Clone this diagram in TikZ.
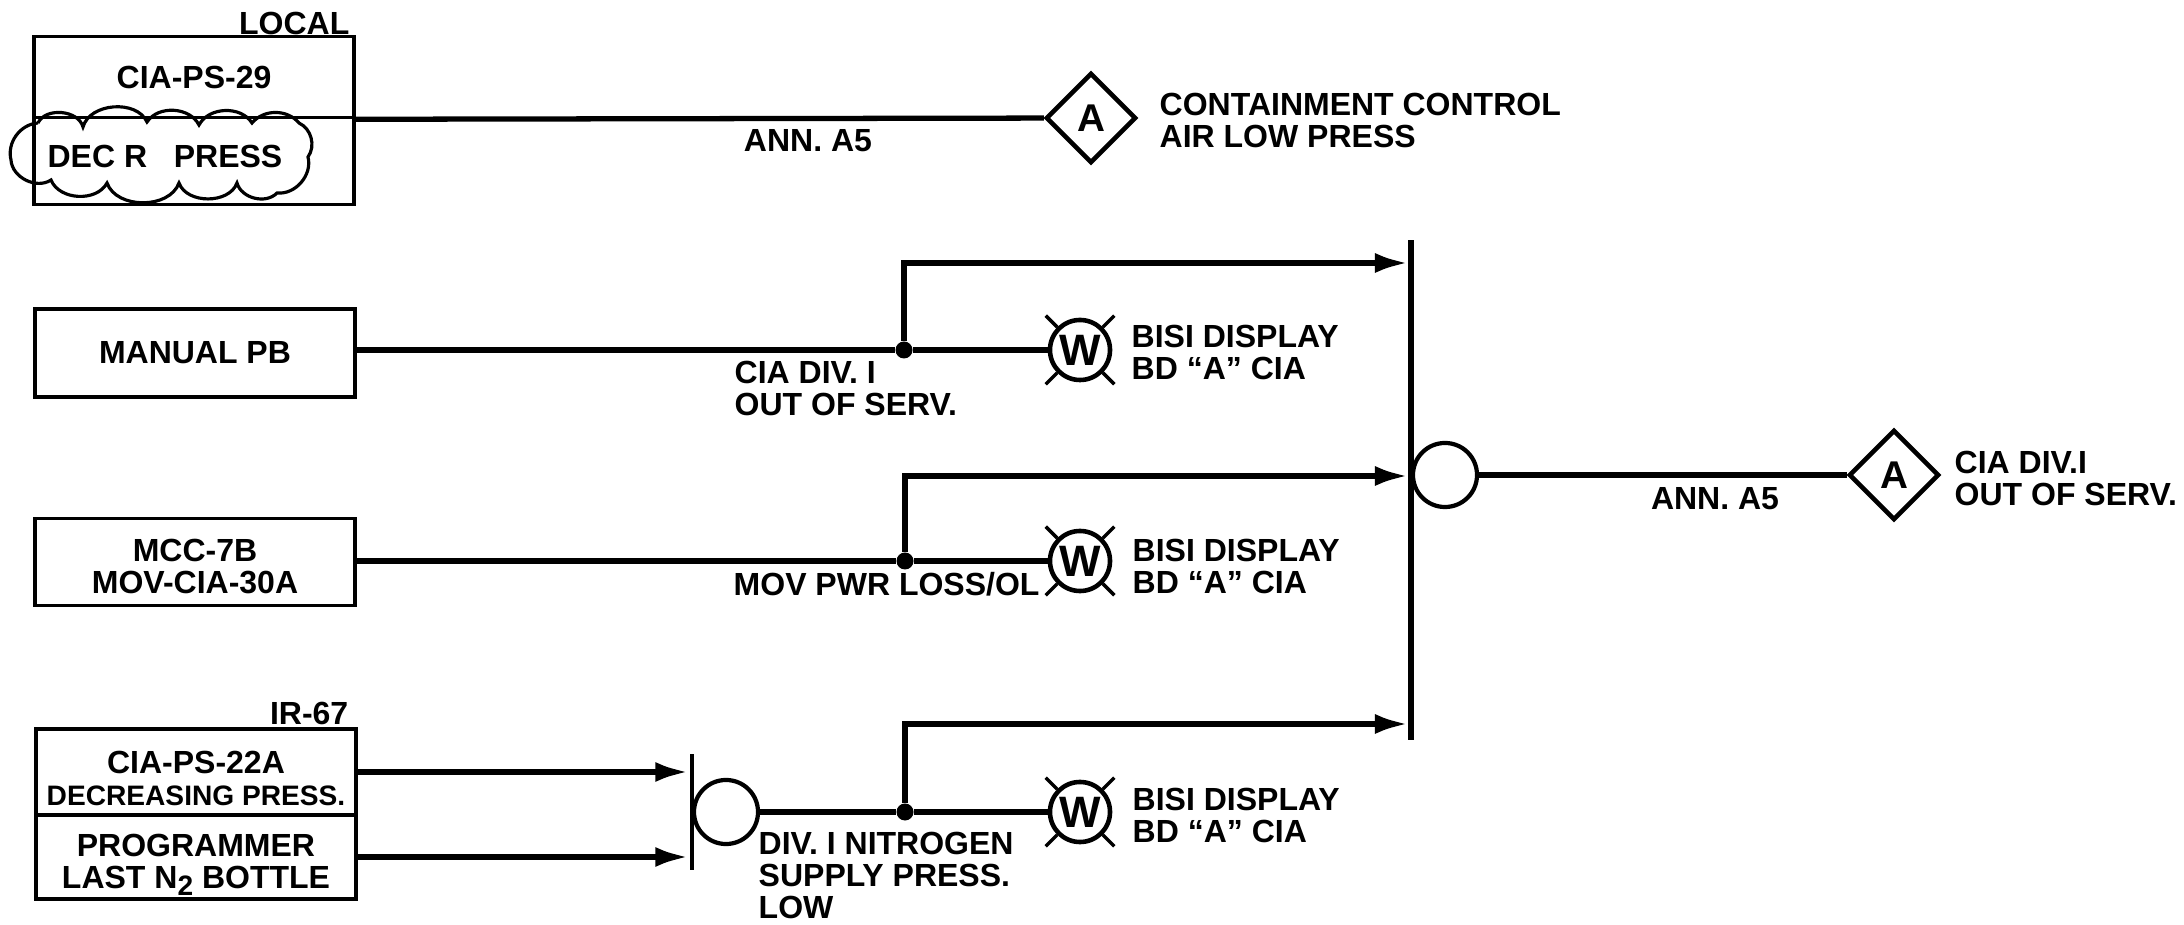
\documentclass[tikz,border=0pt]{standalone}
\usepackage{fontspec}
\setmainfont{Liberation Sans}
\usepackage{tikz}
\usetikzlibrary{shapes.geometric, arrows.meta, calc}

\begin{document}
\begin{tikzpicture}[x=0.01cm, y=-0.01cm,
    font=\fontsize{9.1}{9.1}\selectfont\bfseries,
    box/.style={draw, line width=1pt, minimum width=3.2cm, inner sep=0pt, align=center},
    wire/.style={line width=1.5pt},
    feed/.style={line width=1.8pt, -{Latex[length=0.34cm, width=0.2cm]}},
    orgate/.style={draw, circle, line width=1.2pt, minimum size=0.64cm, inner sep=0pt},
    lamp/.style={draw, circle, line width=1.3pt, minimum size=0.6cm, inner sep=0pt, font=\fontsize{12.5}{12}\selectfont\bfseries},
    ann/.style={draw, diamond, aspect=1, line width=1.3pt, minimum width=0.9cm, minimum height=0.9cm, inner sep=0pt, font=\fontsize{11}{11}\selectfont\bfseries},
    dotnode/.style={fill, circle, minimum size=0.17cm, inner sep=0pt},
    vbar/.style={fill, minimum width=0.06cm, inner sep=0pt},
    txt/.style={anchor=west, align=left, inner sep=0pt}]
\useasboundingbox (0,0) rectangle (2184,925);
% Left column
\node[box, minimum height=0.81cm] (localtop) at (194,77) {CIA-PS-29};
\node[box, minimum height=0.87cm] (localbot) at (194,161) {};
\draw[line width=0.9pt] (38,123) to[bend left=70] (83,127) to[bend left=70] (147,122)
    to[bend left=60] (199,125) to[bend left=60] (252,123) to[bend left=50] (299,123)
    to[bend left=50] (308,157) to[bend left=55] (277,193) to[bend left=60] (237,183)
    to[bend left=70] (179,183) to[bend left=70] (107,183) to[bend left=65] (51,180)
    to[bend left=60] (11,160) to[bend left=50] (38,123);
\node[inner sep=0pt] (dcloud) at (165,156) {DEC R\ \ \ PRESS};
\node[anchor=east, inner sep=0pt] (locallbl) at (350,23) {LOCAL};
\node[box, minimum height=0.88cm] (pb) at (195,353) {MANUAL PB};
\node[box, minimum height=0.87cm] (mcc) at (195,562) {\rule{0pt}{9pt}MCC-7B\\MOV-CIA-30A};
\node[box, minimum height=0.86cm] (irtop) at (196,772) {\rule{0pt}{10pt}CIA-PS-22A\\{\fontsize{8}{9}\selectfont DECREASING PRESS.}};
\node[box, minimum height=0.84cm] (irbot) at (196,857) {\rule{0pt}{11pt}PROGRAMMER\\LAST N{\raisebox{-2pt}{\fontsize{8}{8}\selectfont 2}} BOTTLE};
\node[anchor=east, inner sep=0pt] (irlbl) at (349,713) {IR-67};
% Top row
\node[ann] (anna) at (1091,118) {A};
\draw[wire] (localtop.south east) -- (anna);
\node[inner sep=0pt] (anntxta) at (808,141) {ANN. A5};
\node[txt] (conttxt) at (1159,120) {CONTAINMENT CONTROL\\AIR LOW PRESS};
% Big bar and output
\node[vbar, minimum height=5cm] (bigbar) at (1411,490) {};
\node[orgate] (orb) at (1445,475) {};
\node[ann] (annb) at (1894,475) {A};
\draw[wire] (orb) -- (annb);
\node[inner sep=0pt] (anntxtb) at (1715,499) {ANN. A5};
\node[txt] (outtxt) at (1954,478) {CIA DIV.I\\OUT OF SERV.};
% Lamps
\node[lamp] (wa) at (1080,350) {W};
\node[lamp] (wb) at (1080,561) {W};
\node[lamp] (wc) at (1080,812) {W};
\foreach \lampname in {wa,wb,wc}
    \foreach \ang in {45,135,225,315}
        \draw[line width=1pt] (\lampname.\ang) -- ($(\lampname)!1.5!(\lampname.\ang)$);
\node[txt] (wtxta) at (1131,352) {BISI DISPLAY\\BD ``A'' CIA};
\node[txt] (wtxtb) at (1132,566) {BISI DISPLAY\\BD ``A'' CIA};
\node[txt] (wtxtc) at (1132,815) {BISI DISPLAY\\BD ``A'' CIA};
% Branches
\node[dotnode] (ja) at (904,350) {};
\node[dotnode] (jb) at (905,561) {};
\node[dotnode] (jc) at (905,812) {};
\coordinate (ta) at (1409,263);
\coordinate (tb) at (1409,476);
\coordinate (tc) at (1409,724);
\draw[wire] (ja -| pb.east) -- (ja) -- (wa);
\draw[wire] (jb -| mcc.east) -- (jb) -- (wb);
\draw[feed] (ja) |- (ta);
\draw[feed] (jb) |- (tb);
\draw[feed] (jc) |- (tc);
\node[txt] (ctxta) at (734,388) {CIA DIV. I\\OUT OF SERV.};
\node[txt] (ctxtb) at (733,584) {MOV PWR LOSS/OL};
% Nitrogen gate
\node[vbar, minimum height=1.16cm, minimum width=0.04cm] (smallbar) at (692,812) {};
\node[orgate] (ora) at (726,812) {};
\draw[feed] (irtop.east) -- (irtop.east -| smallbar.west);
\draw[feed] (irbot.east) -- (irbot.east -| smallbar.west);
\draw[wire] (ora) -- (jc) -- (wc);
\node[txt] (ctxtc) at (758,875) {DIV. I NITROGEN\\SUPPLY PRESS.\\LOW};
\end{tikzpicture}
\end{document}
